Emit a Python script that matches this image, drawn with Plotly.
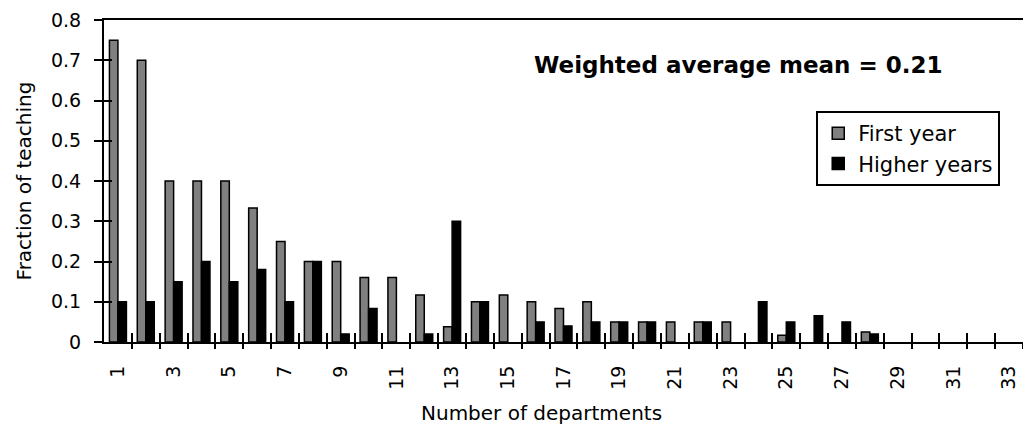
import plotly.graph_objects as go

categories = list(range(1, 34))
first_year = [0.75, 0.70, 0.40, 0.40, 0.40, 0.333, 0.25, 0.20, 0.20, 0.16,
              0.16, 0.117, 0.038, 0.10, 0.117, 0.10, 0.083, 0.10, 0.05, 0.05,
              0.05, 0.05, 0.05, 0, 0.017, 0, 0, 0.025, 0, 0,
              0, 0, 0]
higher_years = [0.10, 0.10, 0.15, 0.20, 0.15, 0.18, 0.10, 0.20, 0.02, 0.083,
                0, 0.02, 0.30, 0.10, 0, 0.05, 0.04, 0.05, 0.05, 0.05,
                0, 0.05, 0, 0.10, 0.05, 0.065, 0.05, 0.02, 0, 0,
                0, 0, 0]
x_tick_vals = list(range(1, 34, 2))
x_tick_text = [str(v) for v in x_tick_vals]
y_tick_vals = [0, 0.1, 0.2, 0.3, 0.4, 0.5, 0.6, 0.7, 0.8]
y_tick_text = ["0", "0.1", "0.2", "0.3", "0.4", "0.5", "0.6", "0.7", "0.8"]
boundaries = [c + 0.5 for c in categories]

FONT = "DejaVu Sans"


def outline_widths(values):
    # no outline for empty bars, so nothing is drawn on the axis line
    return [1.5 if v > 0 else 0 for v in values]


fig = go.Figure()
fig.add_trace(go.Bar(x=categories, y=first_year, name="First year",
                     marker=dict(color="#808080",
                                 line=dict(color="black", width=outline_widths(first_year)))))
fig.add_trace(go.Bar(x=categories, y=higher_years, name="Higher years",
                     marker=dict(color="black",
                                 line=dict(color="black", width=outline_widths(higher_years)))))

# invisible helper traces to activate overlay axes (tick marks crossing the axes)
fig.add_trace(go.Scatter(x=[1], y=[0], xaxis="x2", yaxis="y", mode="markers",
                         marker=dict(opacity=0), showlegend=False, hoverinfo="skip"))
fig.add_trace(go.Scatter(x=[1], y=[0], xaxis="x3", yaxis="y", mode="markers",
                         marker=dict(opacity=0), showlegend=False, hoverinfo="skip"))
fig.add_trace(go.Scatter(x=[1], y=[0], xaxis="x", yaxis="y2", mode="markers",
                         marker=dict(opacity=0), showlegend=False, hoverinfo="skip"))

fig.update_layout(
    width=1023, height=426,
    margin=dict(l=104, r=0, t=20, b=84),
    paper_bgcolor="white", plot_bgcolor="white",
    font=dict(family=FONT, color="black", size=19),
    barmode="group", bargap=0.39, bargroupgap=0,
    showlegend=True,
    legend=dict(x=0.775, y=0.717, xanchor="left", yanchor="top",
                bgcolor="white", bordercolor="black", borderwidth=2,
                font=dict(family=FONT, size=21, color="black"),
                itemwidth=30, tracegroupgap=0),
    xaxis=dict(range=[0.5, 33.5], tickmode="array", tickvals=x_tick_vals,
               ticktext=x_tick_text, tickangle=-90, ticks="",
               ticklabelstandoff=14, automargin=False,
               showline=True, linecolor="black", linewidth=2, mirror=True,
               showgrid=False, zeroline=False,
               tickfont=dict(family=FONT, size=19, color="black")),
    xaxis2=dict(range=[0.5, 33.5], overlaying="x", anchor="y", side="bottom",
                tickmode="array", tickvals=boundaries, ticks="outside",
                ticklen=6, tickwidth=2, tickcolor="black", automargin=False,
                showticklabels=False, showline=False, showgrid=False, zeroline=False),
    xaxis3=dict(range=[0.5, 33.5], overlaying="x", anchor="y", side="bottom",
                tickmode="array", tickvals=boundaries, ticks="inside",
                ticklen=9, tickwidth=2, tickcolor="black", automargin=False,
                showticklabels=False, showline=False, showgrid=False, zeroline=False),
    yaxis=dict(range=[0, 0.8], tickmode="array", tickvals=y_tick_vals,
               ticktext=y_tick_text, ticks="outside", ticklen=8, tickwidth=2,
               tickcolor="black", ticklabelstandoff=9, automargin=False,
               showline=True, linecolor="black", linewidth=2,
               showgrid=False, zeroline=False,
               tickfont=dict(family=FONT, size=19, color="black"),
               title=dict(text="Fraction of teaching",
                          font=dict(family=FONT, size=20, color="black"),
                          standoff=14)),
    yaxis2=dict(range=[0, 0.8], overlaying="y", anchor="x", side="left",
                tickmode="array", tickvals=y_tick_vals, ticks="inside",
                ticklen=8, tickwidth=2, tickcolor="black", automargin=False,
                showticklabels=False, showline=False, showgrid=False, zeroline=False),
    annotations=[
        dict(text="<b>Weighted average mean = 0.21</b>", xref="paper", yref="paper",
             x=0.69, y=0.86, xanchor="center", yanchor="middle", showarrow=False,
             font=dict(family=FONT, size=23, color="black")),
        dict(text="Number of departments", xref="paper", yref="paper",
             x=0.4766, y=-0.222, xanchor="center", yanchor="middle", showarrow=False,
             font=dict(family=FONT, size=20, color="black")),
    ],
)

fig.write_html(
    "out.html",
    config={"displayModeBar": False},
    post_script="document.body.style.margin='0';document.body.style.padding='0';"
                "document.body.style.overflow='hidden';",
)
